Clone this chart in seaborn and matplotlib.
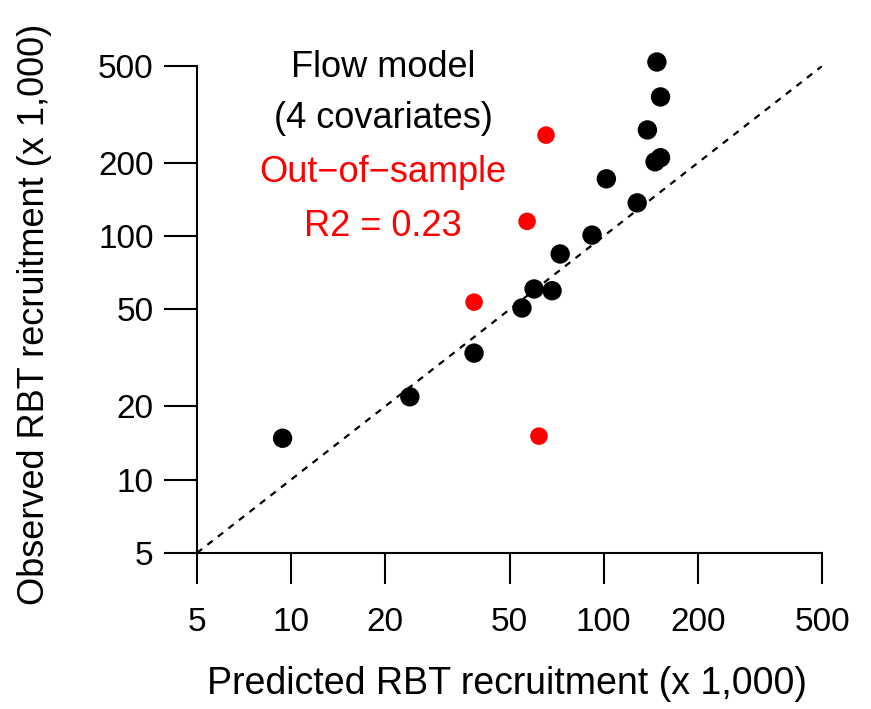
import numpy as np
import pandas as pd
import matplotlib
matplotlib.use("Agg")
import matplotlib.pyplot as plt
import seaborn as sns

# in-sample fits (black) and out-of-sample points (red), thousands of fish
pred_in = [9.4, 24.0, 38.5, 54.8, 59.9, 68.4, 72.6, 91.8, 102, 128, 138, 146, 152, 148, 152]
obs_in = [14.8, 21.9, 33.1, 50.7, 60.7, 59.7, 84.5, 101, 172, 137, 273, 202, 210, 519, 373]
pred_out = [65.4, 56.9, 38.5, 62.1]
obs_out = [260, 115, 53.6, 15.1]

ticks = [5, 10, 20, 50, 100, 200, 500]

df = pd.concat([
    pd.DataFrame({"pred": pred_in, "obs": obs_in, "grp": "in"}),
    pd.DataFrame({"pred": pred_out, "obs": obs_out, "grp": "out"}),
])

sns.set_style("ticks")
plt.rcParams['font.family'] = ['Liberation Sans', 'DejaVu Sans']
plt.rcParams['text.color'] = 'black'
plt.rcParams['axes.labelcolor'] = 'black'

fig = plt.figure(figsize=(8.71, 7.09), dpi=100)
ax = fig.add_axes([0.226, 0.22, 0.718, 0.687])

# 1:1 line
ax.plot([5, 500], [5, 500], ls=(0, (3, 3)), color="black", lw=1.6, zorder=1)

sns.scatterplot(data=df, x="pred", y="obs", hue="grp", size="grp",
                palette={"in": "black", "out": "#ff0000"},
                sizes={"in": 195, "out": 160},
                edgecolor="none", legend=False, ax=ax, clip_on=False, zorder=3)

ax.set_xscale("log")
ax.set_yscale("log")
ax.set_xlim(5, 500)
ax.set_ylim(5, 500)
ax.set_xticks(ticks)
ax.set_yticks(ticks)
ax.set_xticklabels([str(t) for t in ticks])
ax.set_yticklabels([str(t) for t in ticks])
ax.minorticks_off()

ax.tick_params(axis="x", length=22, width=1.5, pad=17, labelsize=24, colors="black")
ax.tick_params(axis="y", length=24, width=1.5, pad=7, labelsize=24, colors="black")
sns.despine(ax=ax)
for sp in ["left", "bottom"]:
    ax.spines[sp].set_linewidth(1.5)
    ax.spines[sp].set_color("black")

ax.set_xlabel("Predicted RBT recruitment (x 1,000)", fontsize=27)
ax.set_ylabel("Observed RBT recruitment (x 1,000)", fontsize=26)
ax.xaxis.set_label_coords(0.496, -0.232)
ax.yaxis.set_label_coords(-0.232, 0.49)

ax.text(0.298, 0.996, "Flow model", transform=ax.transAxes, ha="center", va="center", fontsize=26)
ax.text(0.298, 0.893, "(4 covariates)", transform=ax.transAxes, ha="center", va="center", fontsize=26)
ax.text(0.298, 0.782, "Out\u2212of\u2212sample", transform=ax.transAxes, ha="center", va="center",
        fontsize=26, color="#ff0000")
ax.text(0.298, 0.671, "R2 = 0.23", transform=ax.transAxes, ha="center", va="center",
        fontsize=26, color="#ff0000")

fig.savefig("out.png", dpi=100)
